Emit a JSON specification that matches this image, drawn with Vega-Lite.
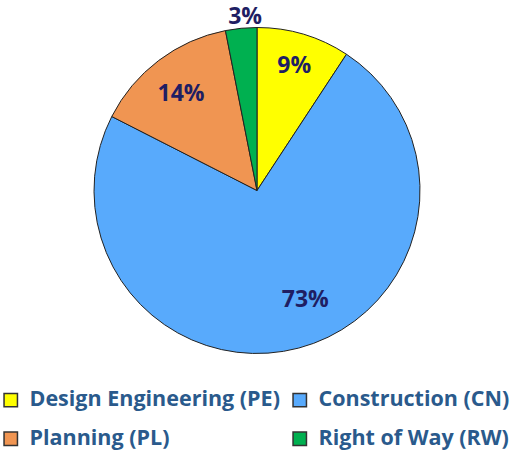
{
  "$schema": "https://vega.github.io/schema/vega-lite/v6.json",
  "width": 514,
  "height": 450,
  "padding": 0,
  "autosize": {"type": "fit", "contains": "padding"},
  "background": "white",
  "config": {"view": {"stroke": null}},
  "data": {"values": [
    {"category": "Design Engineering (PE)", "value": 9.25, "label": "9%", "order": 1},
    {"category": "Construction (CN)", "value": 73.25, "label": "73%", "order": 2},
    {"category": "Planning (PL)", "value": 14.4, "label": "14%", "order": 3},
    {"category": "Right of Way (RW)", "value": 3.1, "label": "3%", "order": 4}
  ]},
  "encoding": {
    "theta": {"field": "value", "type": "quantitative", "stack": true},
    "order": {"field": "order", "type": "quantitative"}
  },
  "layer": [
    {
      "mark": {"type": "arc", "outerRadius": 163, "stroke": "#222222", "strokeWidth": 1},
      "encoding": {
        "color": {
          "field": "category", "type": "nominal",
          "sort": ["Design Engineering (PE)", "Construction (CN)", "Planning (PL)", "Right of Way (RW)"],
          "scale": {
            "domain": ["Design Engineering (PE)", "Construction (CN)", "Planning (PL)", "Right of Way (RW)"],
            "range": ["#FFFF00", "#58AAFC", "#F09552", "#00B050"]
          },
          "legend": {
            "title": null,
            "orient": "bottom",
            "direction": "horizontal",
            "columns": 2,
            "symbolType": "square",
            "symbolSize": 180,
            "symbolStrokeColor": "#333333",
            "symbolStrokeWidth": 1.5,
            "labelFont": "Open Sans",
            "labelFontWeight": "bold",
            "labelFontSize": 21.5,
            "labelColor": "#2A5A8C",
            "labelOffset": 8,
            "labelLimit": 400,
            "columnPadding": 9,
            "rowPadding": 16,
            "offset": 8
          }
        }
      }
    },
    {
      "mark": {"type": "text", "radius": 130, "font": "Open Sans", "fontWeight": "bold", "fontSize": 23, "fill": "#1F1E63"},
      "encoding": {"text": {"condition": {"test": "datum.order == 1", "field": "label"}, "value": ""}}
    },
    {
      "mark": {"type": "text", "radius": 118, "dx": 18, "dy": -5, "font": "Open Sans", "fontWeight": "bold", "fontSize": 23, "fill": "#1F1E63"},
      "encoding": {"text": {"condition": {"test": "datum.order == 2", "field": "label"}, "value": ""}}
    },
    {
      "mark": {"type": "text", "radius": 121, "dx": -3, "font": "Open Sans", "fontWeight": "bold", "fontSize": 23, "fill": "#1F1E63"},
      "encoding": {"text": {"condition": {"test": "datum.order == 3", "field": "label"}, "value": ""}}
    },
    {
      "mark": {"type": "text", "radius": 174, "dx": 5, "font": "Open Sans", "fontWeight": "bold", "fontSize": 23, "fill": "#1F1E63"},
      "encoding": {"text": {"condition": {"test": "datum.order == 4", "field": "label"}, "value": ""}}
    }
  ]
}
